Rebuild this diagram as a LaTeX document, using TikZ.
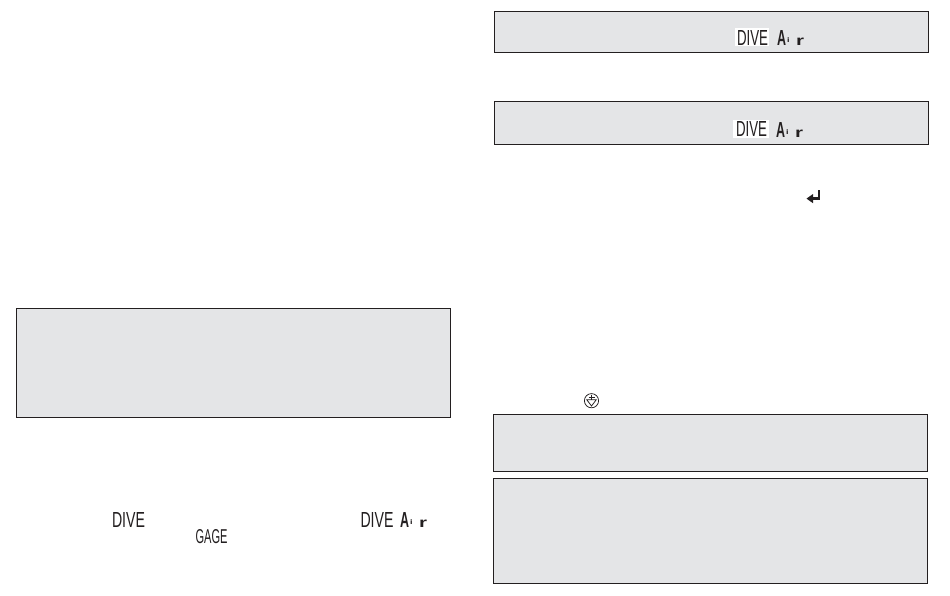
\documentclass[tikz,border=0pt]{standalone}
\usepackage{fontspec}
\setmainfont{Liberation Sans}
\usepackage{graphicx}
\definecolor{panelgray}{HTML}{E4E5E7}
\definecolor{inkdark}{HTML}{231F20}
\tikzset{
  x=1pt,y=-1pt,
  panel/.style={draw=inkdark,fill=panelgray,line width=0.9pt},
  lcd/.style={inner sep=0pt,outer sep=0pt,text=inkdark,anchor=center},
  lcdback/.style={fill=white,draw=none},
  iconline/.style={draw=inkdark,line width=0.75pt},
}
\newcommand{\lcdtext}[3]{\resizebox{#1pt}{#2pt}{#3}}
\newcommand{\lcdair}{\hbox{\resizebox{9pt}{15pt}{\bfseries A}\hspace{1pt}\raisebox{3pt}{\resizebox{2.5pt}{5pt}{\bfseries i}}\hspace{6.5pt}\resizebox{8pt}{7.5pt}{\bfseries r}}}
\begin{document}
\begin{tikzpicture}
\useasboundingbox (0,0) rectangle (950,595);
\fill[white] (0,0) rectangle (950,595);
% panels
\path[panel] (494.5,11.5) rectangle (928.5,52.3);
\path[panel] (494.5,101.5) rectangle (928.5,144.3);
\path[panel] (16.5,308.5) rectangle (450.5,417);
\path[panel] (493.5,414.5) rectangle (927.5,471.3);
\path[panel] (493.5,478.5) rectangle (927.5,583.3);
% white backing behind the first word
\fill[lcdback] (735,28) rectangle (769,46);
\fill[lcdback] (733,120) rectangle (769,137.5);
% LCD words, first panel
\node[lcd] (dive1) at (752.5,37.5) {\lcdtext{31}{15}{DIVE}};
\node[lcd] (air1) at (790.5,38) {\lcdair};
% second panel
\node[lcd] (dive2) at (751.5,129) {\lcdtext{31}{15}{DIVE}};
\node[lcd] (air2) at (789.5,129.5) {\lcdair};
% lower left
\node[lcd] (dive3) at (128.5,519.5) {\lcdtext{33}{15}{DIVE}};
\node[lcd] (dive4) at (377,519.5) {\lcdtext{33}{15}{DIVE}};
\node[lcd] (air4) at (413.5,520) {\lcdair};
\node[lcd] (gage) at (211.5,537) {\lcdtext{32}{14}{GAGE}};
% enter arrow icon
\draw[inkdark,line width=2.6pt] (819,190) -- (819,198.6) -- (811,198.6);
\fill[inkdark] (806.5,198.6) -- (813,194) -- (813,203.2) -- cycle;
% down button icon
\draw[iconline] (591.5,400.7) circle (7.1);
\draw[iconline] (586.8,399.8) -- (596.2,399.8) -- (591.5,406) -- cycle;
\draw[iconline] (591.5,394.5) -- (591.5,399.8);
\draw[iconline] (588.5,397) -- (594.5,397);
\end{tikzpicture}
\end{document}
